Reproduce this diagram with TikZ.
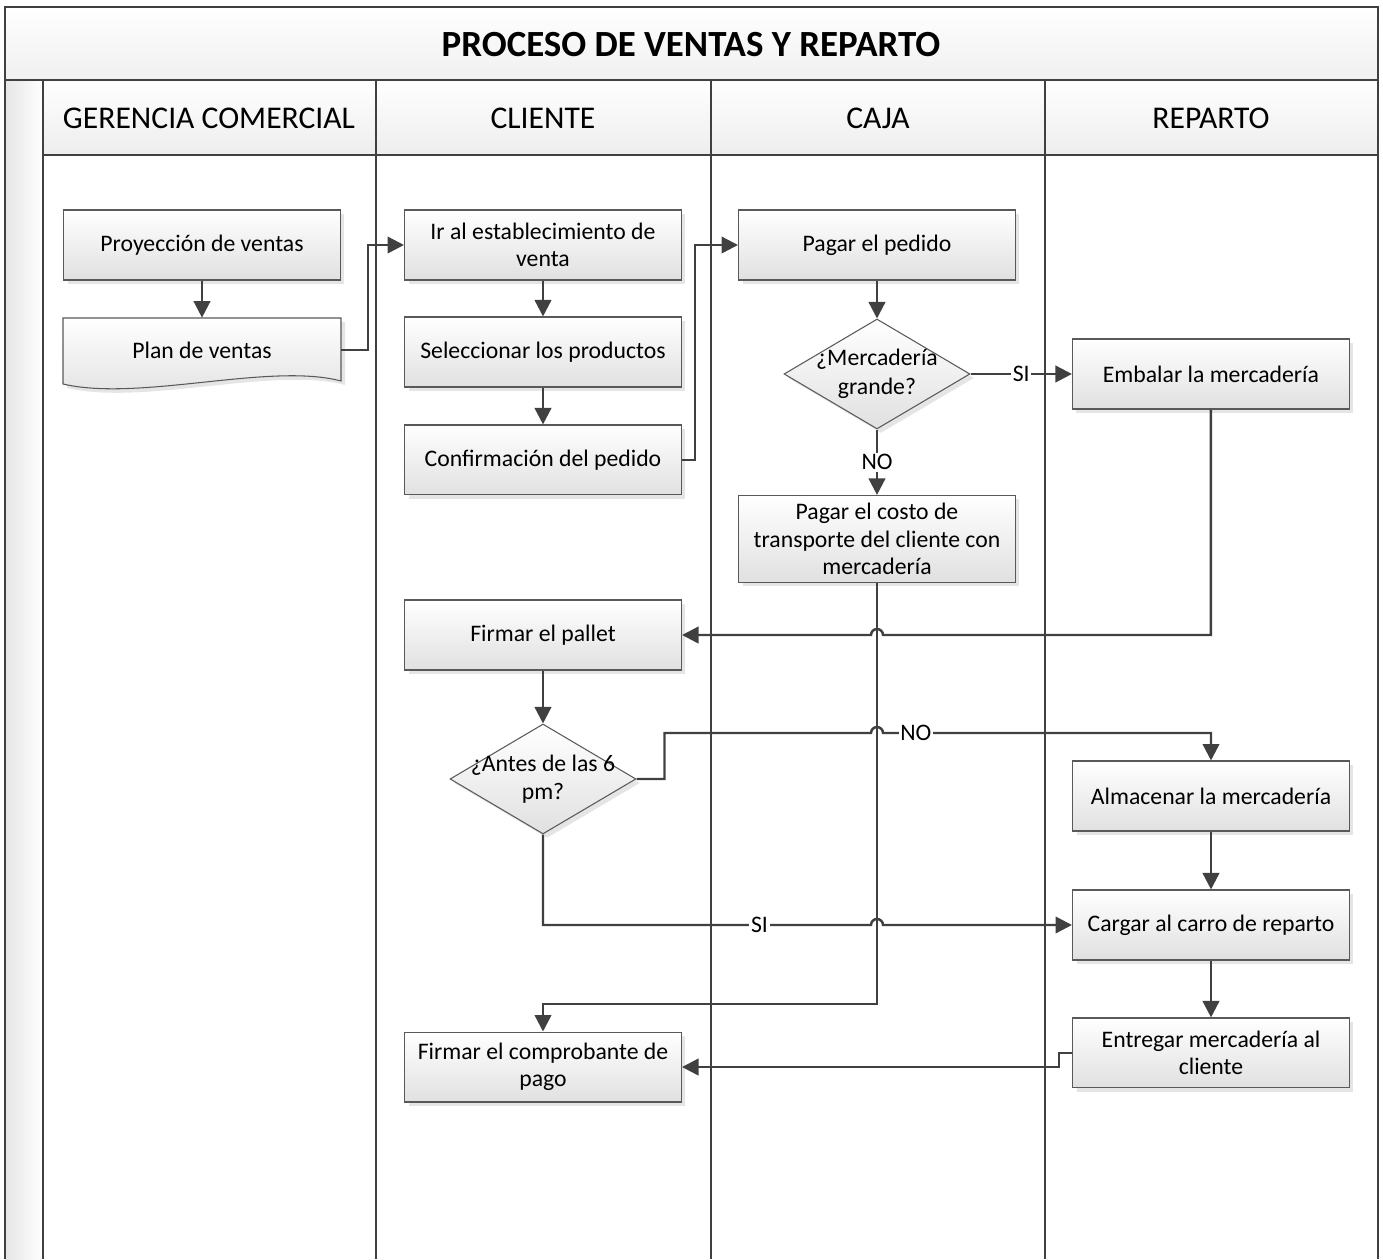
\documentclass[tikz,border=0pt]{standalone}
\usepackage{fontspec}
\setmainfont{Carlito}
\usetikzlibrary{positioning,shapes.geometric,arrows.meta,shadows}

\begin{document}
\begin{tikzpicture}[x=0.02cm,y=-0.02cm,on grid,
  frame/.style={draw=black!75,line width=0.85pt},
  box/.style={rectangle,draw=black!65,line width=0.6pt,top color=white,bottom color=black!12,
    minimum width=5.54cm,minimum height=1.4cm,inner sep=0pt,align=center,
    font=\fontsize{13.5}{15.6}\selectfont,
    drop shadow={shadow xshift=0.08cm,shadow yshift=-0.08cm,fill=black!10,opacity=1}},
  docshape/.style={draw=black!65,line width=0.6pt,top color=white,bottom color=black!12,
    drop shadow={shadow xshift=0.08cm,shadow yshift=-0.08cm,fill=black!10,opacity=1}},
  decision/.style={box,diamond,minimum width=3.72cm,minimum height=2.2cm},
  qtext/.style={align=center,font=\fontsize{13.5}{16.2}\selectfont},
  flow/.style={draw=black!75,line width=1.4pt,-{Triangle[length=0.33cm,width=0.33cm]}},
  lbl/.style={fill=white,inner sep=1pt,font=\fontsize{13.5}{15.6}\selectfont},
  lanehead/.style={font=\fontsize{18}{21}\selectfont}]
\useasboundingbox (0,0) rectangle (1383,1259);

% pool and lanes
\path[top color=white,bottom color=black!6] (5,7) rectangle (1378,80);
\path[left color=black!10,right color=white] (5,80) rectangle (43,1259);
\path[top color=white,bottom color=black!7] (43,80) rectangle (1378,155);
\draw[frame] (5,1259) -- (5,7) -- (1378,7) -- (1378,1259);
\draw[frame] (5,80) -- (1378,80);
\draw[frame] (43,155) -- (1378,155);
\draw[frame] (43,80) -- (43,1259) (376,80) -- (376,1259)
  (711,80) -- (711,1259) (1045,80) -- (1045,1259);

\node[font=\fontsize{21}{25}\selectfont\bfseries] (title) at (691,45) {PROCESO DE VENTAS Y REPARTO};
\node[lanehead] (gerencia) at (209,118) {GERENCIA COMERCIAL};
\node[lanehead] (cliente) at (543,118) {CLIENTE};
\node[lanehead] (caja) at (878,118) {CAJA};
\node[lanehead] (reparto) at (1211,118) {REPARTO};

% gerencia comercial
\node[box] (proy) at (202,245) {Proyección de ventas};
\path[docshape] (63,318) -- (341,318) -- (341,381) .. controls (270,362) and (140,402) .. (63,384) -- cycle;
\node[font=\fontsize{13.5}{15.6}\selectfont,minimum width=5.54cm,minimum height=1.28cm] (plan) [below=2.1cm of proy] {Plan de ventas};

% cliente
\node[box] (ir) at (543,245) {Ir al establecimiento de\\venta};
\node[box] (sel) [below=2.14cm of ir] {Seleccionar los productos};
\node[box] (conf) [below=2.16cm of sel] {Confirmación del pedido};
\node[box] (pallet) at (543,635) {Firmar el pallet};
\node[decision,label={[qtext]center:¿Antes de las 6\\pm?}] (antes) [below=2.88cm of pallet] {};
\node[box] (comprobante) at (543,1067) {Firmar el comprobante de\\pago};

% caja
\node[box] (pagar) at (877,245) {Pagar el pedido};
\node[decision,label={[qtext]center:¿Mercadería\\grande?}] (merc) [below=2.58cm of pagar] {};
\node[box,minimum height=1.74cm] (costo) [below=3.3cm of merc] {Pagar el costo de\\transporte del cliente con\\mercadería};

% reparto
\node[box] (embalar) [right=6.68cm of merc] {Embalar la mercadería};
\node[box] (almacenar) at (1211,796) {Almacenar la mercadería};
\node[box] (cargar) [below=2.58cm of almacenar] {Cargar al carro de reparto};
\node[box] (entregar) [below=2.56cm of cargar] {Entregar mercadería al\\cliente};

% crossings with the line from costo
\coordinate (j1) at (costo.south |- pallet.east);
\coordinate (j2) at (costo.south |- 0,733);
\coordinate (j3) at (costo.south |- cargar.west);

\draw[flow] (proy) -- (plan);
\draw[flow] (plan.east) -- ++(27,0) |- (ir.west);
\draw[flow] (ir) -- (sel);
\draw[flow] (sel) -- (conf);
\draw[flow] (conf.east) -- ++(13,0) |- (pagar.west);
\draw[flow] (pagar) -- (merc);
\draw[flow] (merc) -- node[lbl] {SI} (embalar);
\draw[flow] (merc) -- node[lbl] {NO} (costo);
\draw[flow] (embalar.south) |- ([xshift=0.12cm]j1) arc[start angle=0,end angle=180,radius=0.12cm] -- (pallet.east);
\draw[flow] (pallet) -- (antes);
\draw[flow] (antes.east) -- ++(28,0) |- ([xshift=-0.12cm]j2) arc[start angle=180,end angle=0,radius=0.12cm]
  -- node[lbl,pos=0.1] {NO} (almacenar.north |- j2) -- (almacenar.north);
\draw[flow] (antes.south) |- node[lbl,pos=0.83] {SI} ([xshift=-0.12cm]j3) arc[start angle=180,end angle=0,radius=0.12cm] -- (cargar.west);
\draw[flow] (almacenar) -- (cargar);
\draw[flow] (cargar) -- (entregar);
\draw[flow] (entregar.west) -- ++(-13,0) |- (comprobante.east);
\draw[flow] (costo.south) -- (costo.south |- 0,1004) -| (comprobante.north);
\end{tikzpicture}
\end{document}
